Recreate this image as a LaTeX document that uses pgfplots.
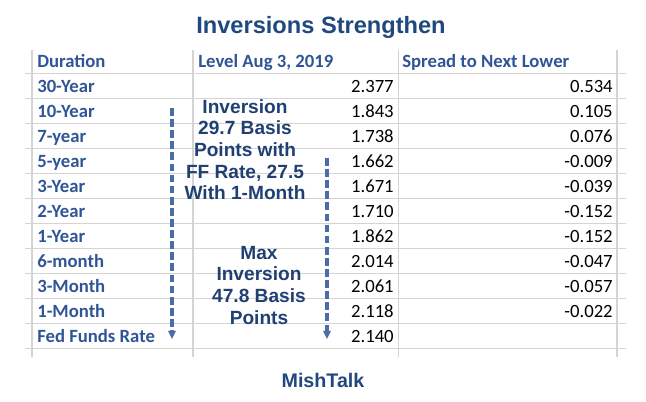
\documentclass[border=0pt]{standalone}
\usepackage{fontspec}
\setmainfont{Carlito}
\newfontfamily\arialfont{Liberation Sans}
\usepackage{pgfplots}
\usepackage{pgfplotstable}
\pgfplotsset{compat=1.18}
\usetikzlibrary{arrows.meta}
\definecolor{titleblue}{HTML}{1F497D}
\definecolor{labblue}{HTML}{2F5597}
\definecolor{noteblue}{HTML}{203F72}
\definecolor{arrowblue}{HTML}{4A6DA7}
\definecolor{gridgray}{HTML}{D4D4D4}

\pgfplotstableread{
row dur level spread
0 30-Year 2.377 0.534
1 10-Year 1.843 0.105
2 7-year 1.738 0.076
3 5-year 1.662 -0.009
4 3-Year 1.671 -0.039
5 2-Year 1.710 -0.152
6 1-Year 1.862 -0.152
7 6-month 2.014 -0.047
8 3-Month 2.061 -0.057
9 1-Month 2.118 -0.022
10 {Fed Funds Rate} 2.140 {}
}\rates

\tikzset{
  cell/.style={anchor=base west, inner sep=0pt, font=\fontsize{13.3}{16}\selectfont\bfseries, text=labblue},
  note/.style={anchor=base, inner sep=0pt, font=\arialfont\fontsize{13.6}{16}\selectfont\bfseries, text=noteblue},
}

\begin{document}
\begin{tikzpicture}
\begin{axis}[
  scale only axis,
  width=16.15cm, height=10.05cm,
  xmin=0, xmax=646, ymin=0, ymax=402,
  y dir=reverse,
  hide axis,
  clip=false,
  point meta=explicit symbolic,
  nodes near coords,
]
  \path (rel axis cs:0,0) rectangle (rel axis cs:1,1);
  % table rules
  \pgfplotsinvokeforeach{73.3,98.3,...,350}{
    \draw[gridgray, line width=0.8pt] (axis cs:25,#1) -- (axis cs:626,#1);
  }
  \pgfplotsinvokeforeach{32,193,398.7,617}{
    \draw[gridgray, line width=0.8pt] (axis cs:#1,50) -- (axis cs:#1,357);
  }
  % headers
  \node[cell] at (axis cs:37,68) {Duration};
  \node[cell] at (axis cs:198,68) {Level Aug 3, 2019};
  \node[cell] at (axis cs:402,68) {Spread to Next Lower};
  % durations
  \addplot[draw=none, every node near coord/.append style={cell}]
    table[x expr=37, y expr=93+25*\thisrow{row}, meta=dur] {\rates};
  % levels
  \addplot[draw=none, every node near coord/.append style={anchor=base east, inner sep=0pt, font=\fontsize{13.3}{16}\selectfont, text=black}]
    table[x expr=394, y expr=93+25*\thisrow{row}, meta=level] {\rates};
  % spreads
  \addplot[draw=none, every node near coord/.append style={anchor=base east, inner sep=0pt, font=\fontsize{13.3}{16}\selectfont, text=black}]
    table[x expr=613, y expr=93+25*\thisrow{row}, meta=spread] {\rates};
  % arrows
  \draw[draw=arrowblue, line width=2.6pt, dash pattern=on 5.5pt off 2.4pt] (axis cs:172,108) -- (axis cs:172,332);
  \draw[draw=arrowblue, line width=2.6pt, dash pattern=on 5.5pt off 2.4pt] (axis cs:327,158) -- (axis cs:327,332);
  \fill[arrowblue] (axis cs:168,331) -- (axis cs:176,331) -- (axis cs:172,339) -- cycle;
  \fill[arrowblue] (axis cs:323,331) -- (axis cs:331,331) -- (axis cs:327,339) -- cycle;
  % notes
  \node[note] at (axis cs:245,113.3) {Inversion};
  \node[note] at (axis cs:245,135) {29.7 Basis};
  \node[note] at (axis cs:245,156.7) {Points with};
  \node[note] at (axis cs:245,178.3) {FF Rate, 27.5};
  \node[note] at (axis cs:245,200) {With 1-Month};
  \node[note] at (axis cs:259,259.3) {Max};
  \node[note] at (axis cs:259,281) {Inversion};
  \node[note] at (axis cs:259,302.7) {47.8 Basis};
  \node[note] at (axis cs:259,324.3) {Points};
  % title and footer
  \node[anchor=base, inner sep=0pt, font=\arialfont\fontsize{16.8}{20}\selectfont\bfseries, text=titleblue] at (axis cs:321,33.3) {Inversions Strengthen};
  \node[anchor=base, inner sep=0pt, font=\arialfont\fontsize{14}{17}\selectfont\bfseries, text=titleblue] at (axis cs:323,388) {MishTalk};
\end{axis}
\end{tikzpicture}
\end{document}
